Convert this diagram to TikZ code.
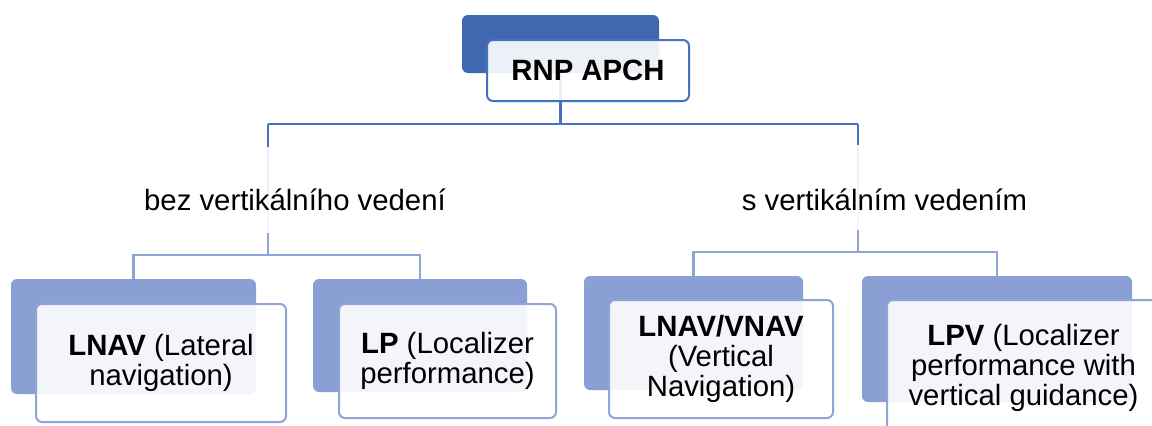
\documentclass[tikz,border=0pt]{standalone}
\usepackage{fontspec}
\setmainfont{Liberation Sans}
\pgfdeclarelayer{bg}
\pgfsetlayers{bg,main}
\definecolor{topfill}{RGB}{63,104,177}
\definecolor{topline}{RGB}{68,114,196}
\definecolor{subfill}{RGB}{138,159,212}
\definecolor{subline}{RGB}{143,165,216}
\tikzset{
  backbox/.style={anchor=north west, inner sep=0pt, outer sep=0pt, rounded corners=4.5pt},
  frontbox/.style={anchor=north west, inner sep=0pt, outer sep=0pt, rounded corners=4.5pt,
    fill=white, fill opacity=0.9, text opacity=1, line width=1.5pt, align=center,
    font=\fontsize{22}{22.6}\selectfont},
  grouplabel/.style={anchor=base, inner sep=0pt, outer sep=0pt, fill=white,
    fill opacity=0.9, text opacity=1, font=\fontsize{22}{22.6}\selectfont},
  upperlink/.style={draw=topline, line width=1.6pt},
  lowerlink/.style={draw=subline, line width=1.6pt},
}
\begin{document}
\begin{tikzpicture}[x=0.75pt,y=-0.75pt]
\useasboundingbox (0,0) rectangle (1152,425);
\clip (0,0) rectangle (1152,425);

% root
\node[backbox, fill=topfill, minimum width=147.75pt, minimum height=43.5pt] (topB) at (462,15) {};
\node[frontbox, draw=topline, minimum width=151.5pt, minimum height=45.75pt] (topF) at (487,40) {\textbf{RNP APCH}};

% group labels
\node[grouplabel, text height=47.25pt, text depth=17.25pt] (labL) at (295,210) {bez vertikálního vedení};
\node[grouplabel, text height=48.75pt, text depth=15pt] (labR) at (884.5,210) {s vertikálním vedením};

% leaves
\node[backbox, fill=subfill, minimum width=183.75pt, minimum height=86.25pt] (lnavB) at (11,279) {};
\node[frontbox, draw=subline, minimum width=187.5pt, minimum height=88.5pt] (lnavF) at (36,304) {\textbf{LNAV} (Lateral\\navigation)};

\node[backbox, fill=subfill, minimum width=160.5pt, minimum height=84.75pt] (lpB) at (313,279) {};
\node[frontbox, draw=subline, minimum width=162.75pt, minimum height=85.5pt] (lpF) at (339,304) {\textbf{LP} (Localizer\\performance)};

\node[backbox, fill=subfill, minimum width=164.25pt, minimum height=85.5pt] (lvB) at (584,276) {};
\node[frontbox, draw=subline, minimum width=168pt, minimum height=88.5pt] (lvF) at (609,300) {\textbf{LNAV/VNAV}\\(Vertical\\Navigation)};

\node[backbox, fill=subfill, minimum width=202.5pt, minimum height=94.5pt] (lpvB) at (862,276) {};
\node[frontbox, draw=subline, minimum width=204.75pt, minimum height=102pt] (lpvF) at (887,300) {\textbf{LPV} (Localizer\\performance with\\vertical guidance)};

% connectors, drawn beneath the boxes
\begin{pgfonlayer}{bg}
  \coordinate (jL) at (268,124);
  \coordinate (jR) at (858,124);
  \coordinate (kL) at (268,255);
  \coordinate (kR) at (858,252);
  \draw[upperlink] (topB.south) -- (topB.south |- jL);
  \draw[upperlink] (jL) -- (jR);
  \draw[upperlink] (jL) -- (jL |- labL.center);
  \draw[upperlink] (jR) -- (jR |- labR.center);
  \draw[lowerlink] (jL |- labL.center) -- (kL);
  \draw[lowerlink] (jR |- labR.center) -- (kR);
  \draw[lowerlink] (lnavB.north) |- (kL) -| (lpB.north);
  \draw[lowerlink] (lvB.north) |- (kR) -| (lpvB.north);
\end{pgfonlayer}
\end{tikzpicture}
\end{document}
